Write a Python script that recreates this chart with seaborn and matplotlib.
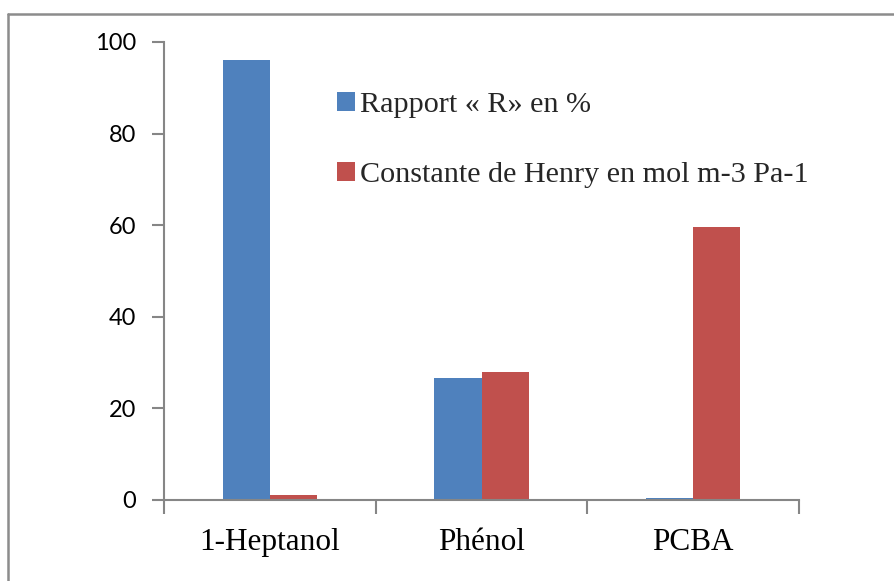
import matplotlib
matplotlib.use("Agg")
import matplotlib.pyplot as plt
from matplotlib.patches import Patch
from matplotlib.lines import Line2D
import seaborn as sns
import pandas as pd

categories = ["1-Heptanol", "Phénol", "PCBA"]
series_names = ["Rapport « R» en %", "Constante de Henry en mol m-3 Pa-1"]
rapport_r = [96, 26.7, 0.5]
constante_henry = [1, 28, 59.7]
y_ticks = [0, 20, 40, 60, 80, 100]
colors = ["#4F81BD", "#C0504D"]

df = pd.DataFrame({
    "compose": categories * 2,
    "valeur": rapport_r + constante_henry,
    "serie": [series_names[0]] * 3 + [series_names[1]] * 3,
})

sns.set_theme(style="white")
plt.rcParams["font.family"] = ["Liberation Serif", "DejaVu Sans"]

W, H = 894, 581
fig = plt.figure(figsize=(W / 100, H / 100), dpi=100)
ax = fig.add_axes([164 / W, 1 - 500 / H, (799 - 164) / W, (500 - 42) / H])

sns.barplot(data=df, x="compose", y="valeur", hue="serie", palette=colors,
            width=0.445, saturation=1, ax=ax, legend=False, errorbar=None)
for p in ax.patches:
    p.set_edgecolor("none")

ax.set_xlim(-0.5, 2.5)
ax.set_ylim(0, 100)
ax.set_xlabel("")
ax.set_ylabel("")

axis_gray = "#868686"
for s in ["top", "right"]:
    ax.spines[s].set_visible(False)
for s in ["left", "bottom"]:
    ax.spines[s].set_color(axis_gray)
    ax.spines[s].set_linewidth(1.5)

ax.set_yticks(y_ticks)
ax.set_yticklabels([str(v) for v in y_ticks], fontfamily="Lato", fontsize=17, color="black")
ax.tick_params(axis="y", direction="out", length=9, width=1.5, color=axis_gray, pad=11, left=True)

ax.set_xticks([-0.5, 0.5, 1.5, 2.5])
ax.set_xticklabels([])
ax.set_xticks(range(len(categories)), minor=True)
ax.set_xticklabels(categories, minor=True, fontfamily="Liberation Serif", fontsize=22.5, color="black")
ax.tick_params(axis="x", which="major", direction="out", length=10, width=1.5, color=axis_gray, bottom=True)
ax.tick_params(axis="x", which="minor", length=0, pad=20)

handles = [Patch(facecolor=c, edgecolor="none") for c in colors]
ax.legend(handles, series_names, loc="upper left", bbox_to_anchor=(337 / W, 1 - 92 / H),
          bbox_transform=fig.transFigure, frameon=False,
          prop={"family": "Liberation Serif", "size": 21.7},
          handlelength=0.6, handleheight=0.6, handletextpad=0.15, labelspacing=1.45,
          borderaxespad=0, borderpad=0)

# Outer frame: left and top edges only
frame_gray = "#8C8C8C"
fig.add_artist(Line2D([8 / W, 8 / W], [0, 1 - 14 / H], transform=fig.transFigure,
                      color=frame_gray, linewidth=1.8))
fig.add_artist(Line2D([8 / W, 1], [1 - 14 / H, 1 - 14 / H], transform=fig.transFigure,
                      color=frame_gray, linewidth=1.8))

fig.savefig("out.png", dpi=100, facecolor="white")
